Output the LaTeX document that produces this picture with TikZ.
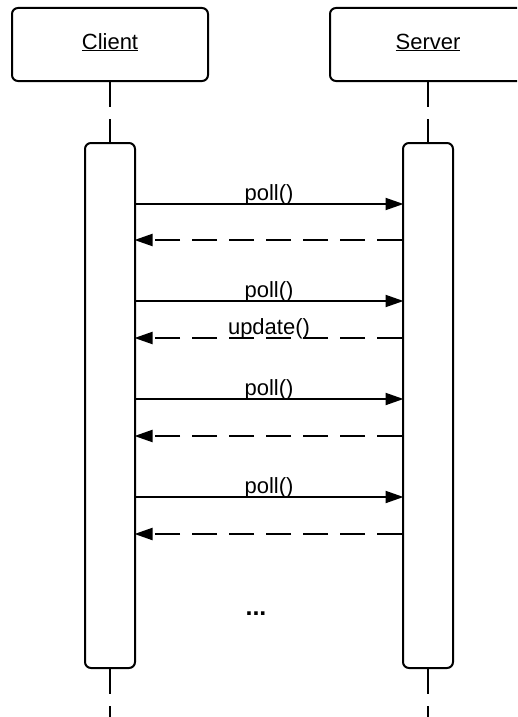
\documentclass[tikz,border=0pt]{standalone}
\usepackage{fontspec}
\setmainfont{Liberation Sans}
\usetikzlibrary{arrows.meta}
\begin{document}
\begin{tikzpicture}[x=1pt,y=-1pt,
  every node/.style={font=\fontsize{22}{26}\selectfont},
  head/.style={draw,line width=2pt,rounded corners=6pt,minimum width=196pt,minimum height=73pt,inner sep=0pt},
  act/.style={draw,line width=2pt,rounded corners=6pt,minimum width=50pt,minimum height=525pt,inner sep=0pt,fill=white},
  life/.style={line width=2pt,dash pattern=on 25pt off 12pt},
  call/.style={line width=2pt,shorten >=-1.5pt,-{Triangle[length=18pt,width=12pt]}},
  reply/.style={line width=2pt,shorten >=-1.5pt,dash pattern=on 25pt off 12pt,-{Triangle[length=18pt,width=12pt]}},
  lbl/.style={anchor=base,inner sep=0pt}]
\useasboundingbox (0,0) rectangle (517,717);
\clip (0,0) rectangle (517,717);

% lifeline heads
\node[head] (client) at (110,44.5) {};
\node[head] (server) at (428,44.5) {};
\node[lbl] (clientlbl) at (110,49) {\underline{Client}};
\node[lbl] (serverlbl) at (428,49) {\underline{Server}};

% activation bars
\node[act] (ca) at (110,405.5) {};
\node[act] (sa) at (428,405.5) {};

% lifelines
\coordinate (cend) at (110,722);
\coordinate (send) at (428,722);
\draw[life] (client.south) -- (ca.north);
\draw[life] (server.south) -- (sa.north);
\draw[life] (ca.south) -- (cend);
\draw[life] (sa.south) -- (send);

% message heights
\coordinate (m1) at (0,204);
\coordinate (m2) at (0,240);
\coordinate (m3) at (0,301);
\coordinate (m4) at (0,338);
\coordinate (m5) at (0,399);
\coordinate (m6) at (0,436);
\coordinate (m7) at (0,497);
\coordinate (m8) at (0,534);

% messages
\draw[call] (ca.east |- m1) -- (sa.west |- m1);
\draw[reply] (sa.west |- m2) -- (ca.east |- m2);
\draw[call] (ca.east |- m3) -- (sa.west |- m3);
\draw[reply] (sa.west |- m4) -- (ca.east |- m4);
\draw[call] (ca.east |- m5) -- (sa.west |- m5);
\draw[reply] (sa.west |- m6) -- (ca.east |- m6);
\draw[call] (ca.east |- m7) -- (sa.west |- m7);
\draw[reply] (sa.west |- m8) -- (ca.east |- m8);

% message labels
\node[lbl] (l1) at (269,200) {poll()};
\node[lbl] (l3) at (269,297) {poll()};
\node[lbl] (l4) at (269,334) {update()};
\node[lbl] (l5) at (269,395) {poll()};
\node[lbl] (l7) at (269,493) {poll()};
\node[lbl,font=\fontsize{25}{29}\selectfont\bfseries] (more) at (256,615) {...};
\end{tikzpicture}
\end{document}
